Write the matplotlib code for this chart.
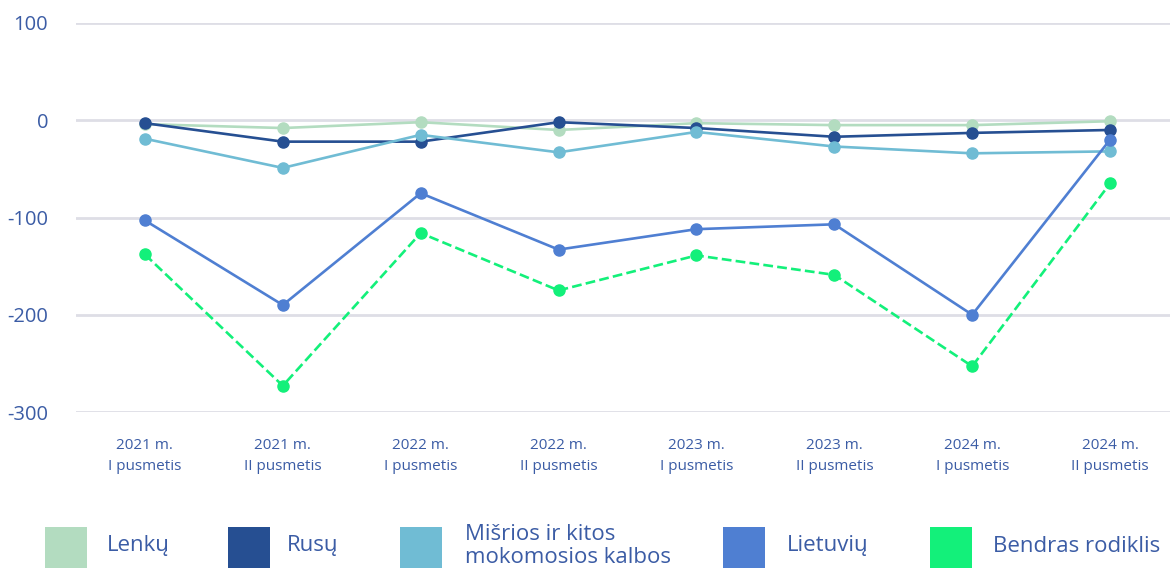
import matplotlib
matplotlib.use('Agg')
import matplotlib.pyplot as plt
from matplotlib.patches import Rectangle

plt.rcParams['font.family'] = ['Open Sans', 'DejaVu Sans']
plt.rcParams['axes.unicode_minus'] = False

periods = ['2021 m.\nI pusmetis', '2021 m.\nII pusmetis', '2022 m.\nI pusmetis', '2022 m.\nII pusmetis',
           '2023 m.\nI pusmetis', '2023 m.\nII pusmetis', '2024 m.\nI pusmetis', '2024 m.\nII pusmetis']

lenku = [-4, -8, -2, -10, -3, -5, -5, -1]
rusu = [-3, -22, -22, -2, -8, -17, -13, -10]
misrios = [-19, -49, -15, -33, -12, -27, -34, -32]
lietuviu = [-103, -190, -75, -133, -112, -107, -200, -20]
bendras = [-138, -273, -116, -175, -139, -159, -253, -65]

series = [
    ('Lenkų', lenku, '#b3dcc0', '-'),
    ('Rusų', rusu, '#264f92', '-'),
    ('Mišrios ir kitos\nmokomosios kalbos', misrios, '#70bcd4', '-'),
    ('Lietuvių', lietuviu, '#4f7fd2', '-'),
    ('Bendras rodiklis', bendras, '#13f07a', '--'),
]

text_color = '#3b5ca5'

fig = plt.figure(figsize=(11.7, 5.68), dpi=100)
W, H = 1170, 568
ax = fig.add_axes([76 / W, 1 - 412 / H, (1179 - 76) / W, (412 - 23) / H])

x = list(range(len(periods)))
for name, vals, color, ls in series:
    ax.plot(x, vals, color=color, linestyle=ls, linewidth=1.9, marker='o',
            markersize=8, clip_on=False, zorder=3)

ax.set_xlim(-0.5, 7.5)
ax.set_ylim(-300, 100)
ax.set_yticks([100, 0, -100, -200, -300])
ax.set_xticks(x)
ax.set_xticklabels(periods, fontsize=11, color=text_color, linespacing=1.5)
ax.tick_params(axis='y', labelsize=14.5, colors=text_color, length=0, pad=20)
ax.tick_params(axis='x', length=0, pad=19)
ax.grid(axis='y', color='#dedee6', linewidth=2)
ax.set_axisbelow(True)
for s in ax.spines.values():
    s.set_visible(False)

# legenda
legend_x = [45, 228, 400, 723, 930]
text_x = [107, 287, 465, 787, 993]
for (name, vals, color, ls), lx, tx in zip(series, legend_x, text_x):
    fig.add_artist(Rectangle((lx / W, 0), 42 / W, 41 / H, transform=fig.transFigure,
                             facecolor=color, edgecolor='none'))
    fig.text(tx / W, 1 - 546 / H, name, fontsize=16, color=text_color,
             va='center', ha='left', linespacing=1.15)

fig.savefig('out.png', dpi=100)
